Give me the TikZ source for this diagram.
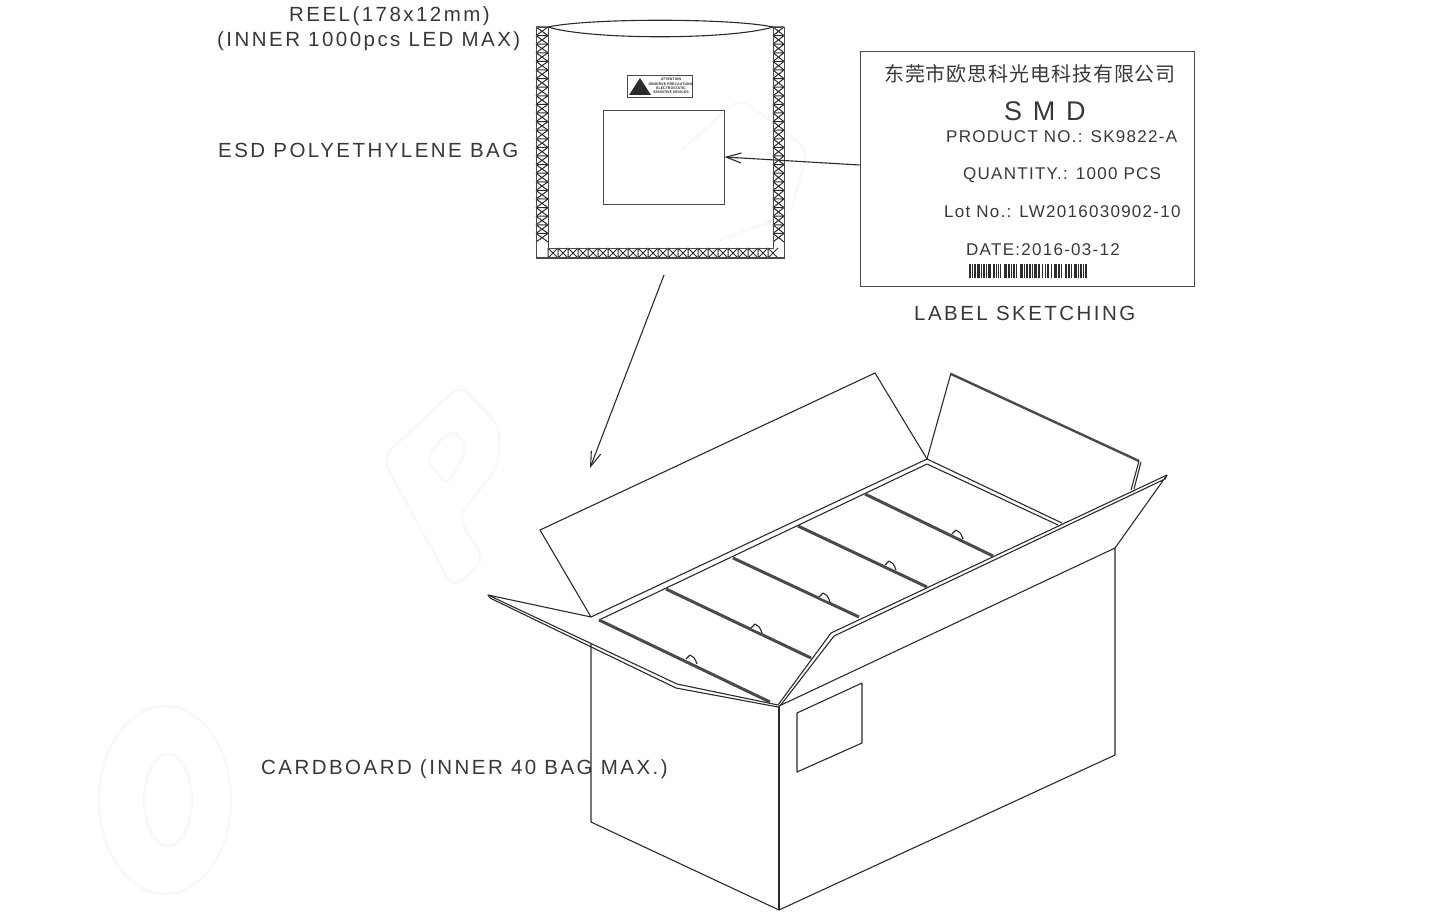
\documentclass[tikz,border=0pt]{standalone}
\usepackage{fontspec}
\usepackage{xcolor}
\usetikzlibrary{arrows.meta,positioning,calc}
\setmainfont{Liberation Sans}
\newfontfamily\capfont[LetterSpace=12]{Liberation Sans}
\newfontfamily\tagfont[LetterSpace=7.5]{Liberation Sans}
\newfontfamily\cjkfont[LetterSpace=4.5]{Noto Sans CJK SC}
\definecolor{pkgInk}{HTML}{2B2B2B}
\definecolor{pkgFrame}{HTML}{4A4A4A}
\definecolor{pkgText}{HTML}{383838}
\definecolor{pkgGhost}{HTML}{F8F8F8}
\tikzset{
  pkgline/.style={draw=pkgInk, line width=1.1pt, line join=round},
  framebox/.style={draw=pkgFrame, line width=.9pt, inner sep=0pt},
  hatchline/.style={draw=pkgInk, line width=1pt},
  rimline/.style={draw=pkgFrame, line width=3pt},
  ghostline/.style={draw=pkgGhost, line width=2.5pt, rounded corners=12pt},
  caparr/.style={-{Straight Barb[length=15pt,width=10pt]}, pkgline},
  captext/.style={anchor=west, inner sep=0pt, text=pkgText, font=\fontsize{20.5}{24}\selectfont\capfont},
  tagtext/.style={anchor=west, inner sep=0pt, text=pkgText, font=\fontsize{17}{20}\selectfont\tagfont},
}
\begin{document}
\begin{tikzpicture}[x=1pt,y=-1pt]
    \useasboundingbox (0,0) rectangle (1429,920);
    % watermark
    \draw[pkgGhost, line width=2.5pt] (165,800) ellipse [x radius=66,y radius=94];
    \draw[pkgGhost, line width=2.5pt] (168,800) ellipse [x radius=24,y radius=46];
    \draw[ghostline] (382,458) -- (460,385) -- (500,427) -- (498,467) -- (458,517) -- (485,560) -- (453,588) -- cycle;
    \draw[ghostline] (425,457) -- (453,428) -- (468,447) -- (447,487) -- cycle;
    \draw[ghostline] (682,150) -- (740,98) -- (808,150) -- (790,215) -- (720,240);
    % captions
    \node[captext] (reel) at (289,16) {REEL(178x12mm)};
    \node[captext] (inner) at (217,41) {(INNER 1000pcs LED MAX)};
    \node[captext] (esd) at (218,150.5) {ESD POLYETHYLENE BAG};
    \node[captext] (sketch) at (914,313.5) {LABEL SKETCHING};
    \node[captext] (board) at (261,769) {CARDBOARD (INNER 40 BAG MAX.)};
    % bag
    \foreach \y in {27,35.6,...,240} {
      \draw[hatchline] (536,\y) -- (548,\y+8.6) (548,\y) -- (536,\y+8.6) (536,\y) -- (548,\y);
      \draw[hatchline] (773,\y) -- (784,\y+8.6) (784,\y) -- (773,\y+8.6) (773,\y) -- (784,\y);
    }
    \foreach \x in {548,558,...,768} {
      \draw[hatchline] (\x,248) -- (\x+10,258) (\x+10,248) -- (\x,258) (\x,248) -- (\x,258);
    }
    \draw[framebox] (536,27) -- (536,258) -- (784,258) -- (784,27) -- (773,27) -- (773,248) -- (548,248) -- (548,27) -- cycle;
    \draw[line width=2pt, draw=pkgFrame] (536,258) -- (784,258);
    \draw[pkgline] (548,27) .. controls (590,18) and (730,18) .. (773,27);
    \draw[pkgline] (548,27) .. controls (590,40) and (730,40) .. (773,27);
    \node[framebox, minimum width=65pt, minimum height=22pt] (esdtag) at (659.5,86) {};
    \fill[pkgInk] (629,95) -- (640,78) -- (651,95) -- cycle;
    \node[inner sep=0pt, font=\fontsize{3.6}{4.2}\selectfont\bfseries, align=center, text=pkgInk] (esdtext) at (671,86) {ATTENTION\\OBSERVE PRECAUTIONS\\ELECTROSTATIC\\SENSITIVE DEVICES};
    \node[framebox, minimum width=121pt, minimum height=94pt] (window) at (663.5,157) {};
    % label
    \node[framebox, minimum width=334pt, minimum height=235pt] (labelbox) at (1027,168.5) {};
    \node[anchor=west, inner sep=0pt, text=pkgText, font=\fontsize{20}{24}\selectfont\cjkfont] (maker) at (884,74) {东莞市欧思科光电科技有限公司};
    \node[anchor=west, inner sep=0pt, text=pkgText, font=\fontsize{27}{30}\selectfont\capfont] (smd) at (1004,111) {S M D};
    \node[tagtext] (prod) at (946,137) {PRODUCT NO.: SK9822-A};
    \node[tagtext] (qty) at (963,175) {QUANTITY.: 1000 PCS};
    \node[tagtext] (lot) at (944,212) {Lot No.: LW2016030902-10};
    \node[tagtext] (date) at (966,250) {DATE:2016-03-12};
    \foreach \x/\w in {969/2,972/1,974/2,977/3,981/1,983/2,986/1,988/3,993/2,996/1,998/1,1000/1,1004/3,1008/2,1011/1,1013/2,1016/1,1020/3,1024/1,1026/2,1029/2,1032/1,1034/3,1038/2,1042/1,1045/1,1047/2,1051/1,1054/3,1058/2,1061/1,1065/2,1068/2,1071/1,1074/3,1078/1,1080/2,1083/1,1085/2} {
      \fill[pkgInk] (\x,264) rectangle (\x+\w,278);
    }
    \draw[caparr] ([yshift=3.5pt]labelbox.west) -- (window.east);
    \coordinate (bagout) at (664,275);
    \coordinate (boxin) at (590,468);
    \draw[caparr] (bagout) -- (boxin);
    % carton
    \draw[pkgline] (591,617) -- (540,530) -- (875,373) -- (927,459);
    \draw[pkgline] (927,459) -- (951,373);
    \draw[rimline, line width=2.4pt] (951,374) -- (1139,461);
    \draw[pkgline] (1139,461) -- (1131,490);
    \draw[pkgline] (1141,462) -- (1134,489);
    \draw[pkgline] (591,617) -- (927,459) -- (1062,523);
    \draw[pkgline] (599,620) -- (927,464) -- (1058,525);
    \draw[pkgline] (591,617) -- (488,595) -- (677,684) -- (778,705);
    \draw[pkgline] (488,595) -- (490,598) -- (676,688) -- (778,707);
    \draw[pkgline] (778,705) -- (831,633) -- (1167,475);
    \draw[pkgline] (780,706) -- (834,636) -- (1165,479) -- (1167,475) -- (1115,548);
    \draw[pkgline] (779,706) -- (1115,548) -- (1115,755) -- (779,910) -- (591,822) -- (591,643);
    \draw[pkgline] (779,706) -- (779,910);
    \foreach \xa/\ya/\xb/\yb/\xc/\yc in {
      599/620/770/702/692/662,
      666/589/811/658/757/631,
      733/558/859/617/825/600,
      798/526/927/587/891/568,
      865/494/993/556/958/537} {
      \draw[rimline] (\xa,\ya) -- (\xb,\yb);
      \draw[pkgline, fill=white] (\xc-6,\yc-3) -- (\xc-2,\yc-7) .. controls (\xc+1,\yc-6) and (\xc+3,\yc-4) .. (\xc+5,\yc+2);
    }
    \draw[pkgline] (797,713) -- (862,683) -- (862,743) -- (797,772) -- cycle;
  \end{tikzpicture}
\end{document}
